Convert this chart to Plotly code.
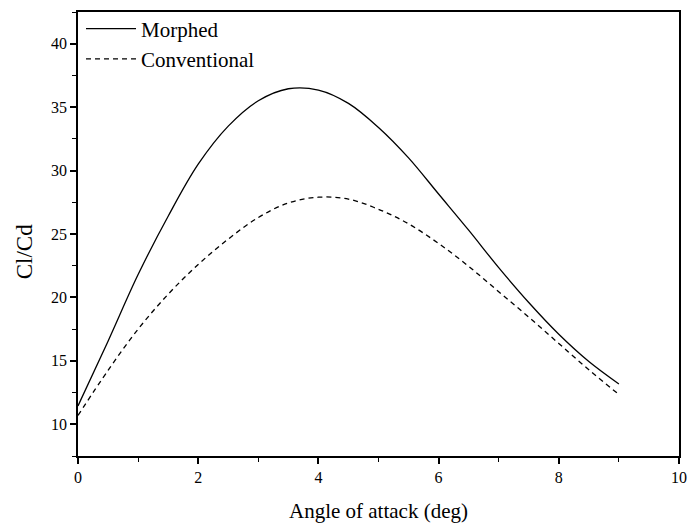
import plotly.graph_objects as go

# Angle of attack (deg)
aoa = [0.0, 0.5, 1.0, 1.5, 2.0, 2.5, 3.0, 3.5, 4.0, 4.5,
       5.0, 5.5, 6.0, 6.5, 7.0, 7.5, 8.0, 8.5, 9.0]

# Lift-to-drag ratio, morphed wing
cl_cd_morphed = [11.45, 16.55, 21.8, 26.4, 30.5, 33.5, 35.5, 36.45, 36.35, 35.3,
                 33.4, 31.0, 28.15, 25.3, 22.35, 19.6, 17.1, 14.95, 13.18]

# Lift-to-drag ratio, conventional wing
cl_cd_conventional = [10.7, 14.25, 17.5, 20.25, 22.6, 24.6, 26.3, 27.45, 27.9, 27.75,
                      26.95, 25.8, 24.25, 22.45, 20.45, 18.45, 16.37, 14.3, 12.35]

FONT = "Liberation Serif"

fig = go.Figure()
fig.add_trace(go.Scatter(
    x=aoa, y=cl_cd_morphed, name="Morphed", mode="lines",
    line=dict(color="black", width=1.3, shape="spline", smoothing=1.0),
))
fig.add_trace(go.Scatter(
    x=aoa, y=cl_cd_conventional, name="Conventional", mode="lines",
    line=dict(color="black", width=1.3, dash="5px,4px", shape="spline", smoothing=1.0),
))

axis_common = dict(
    showgrid=False, zeroline=False,
    showline=True, linecolor="black", linewidth=1.6, mirror=True,
    ticks="outside", ticklen=6, tickwidth=1.6, tickcolor="black",
    tickfont=dict(family=FONT, size=16, color="black"),
)

fig.update_xaxes(
    range=[0, 10], tickmode="array", tickvals=[0, 2, 4, 6, 8, 10],
    minor=dict(tickvals=[1, 3, 5, 7, 9], ticks="outside", ticklen=4,
               tickwidth=1.4, tickcolor="black"),
    title=dict(text="Angle of attack (deg)", font=dict(family=FONT, size=21, color="black"),
               standoff=18),
    **axis_common,
)
fig.update_yaxes(
    range=[7.5, 42.5], tickmode="array", tickvals=[10, 15, 20, 25, 30, 35, 40],
    minor=dict(tickvals=[7.5, 12.5, 17.5, 22.5, 27.5, 32.5, 37.5, 42.5], ticks="outside",
               ticklen=4, tickwidth=1.4, tickcolor="black"),
    **axis_common,
)

# y-axis title placed slightly below the vertical centre of the plot area
fig.add_annotation(
    text="Cl/Cd", textangle=-90, showarrow=False,
    xref="paper", yref="paper", x=-0.089, y=0.46,
    xanchor="center", yanchor="middle",
    font=dict(family=FONT, size=23, color="black"),
)

fig.update_layout(
    width=695, height=528,
    margin=dict(l=78, r=9, t=8, b=72),
    paper_bgcolor="white", plot_bgcolor="white",
    font=dict(family=FONT, color="black"),
    showlegend=True,
    legend=dict(
        x=0.005, y=1.008, xanchor="left", yanchor="top",
        bgcolor="rgba(0,0,0,0)", borderwidth=0,
        font=dict(family=FONT, size=21, color="black"),
        itemwidth=50, tracegroupgap=0,
    ),
)

fig.write_html("out.html")
